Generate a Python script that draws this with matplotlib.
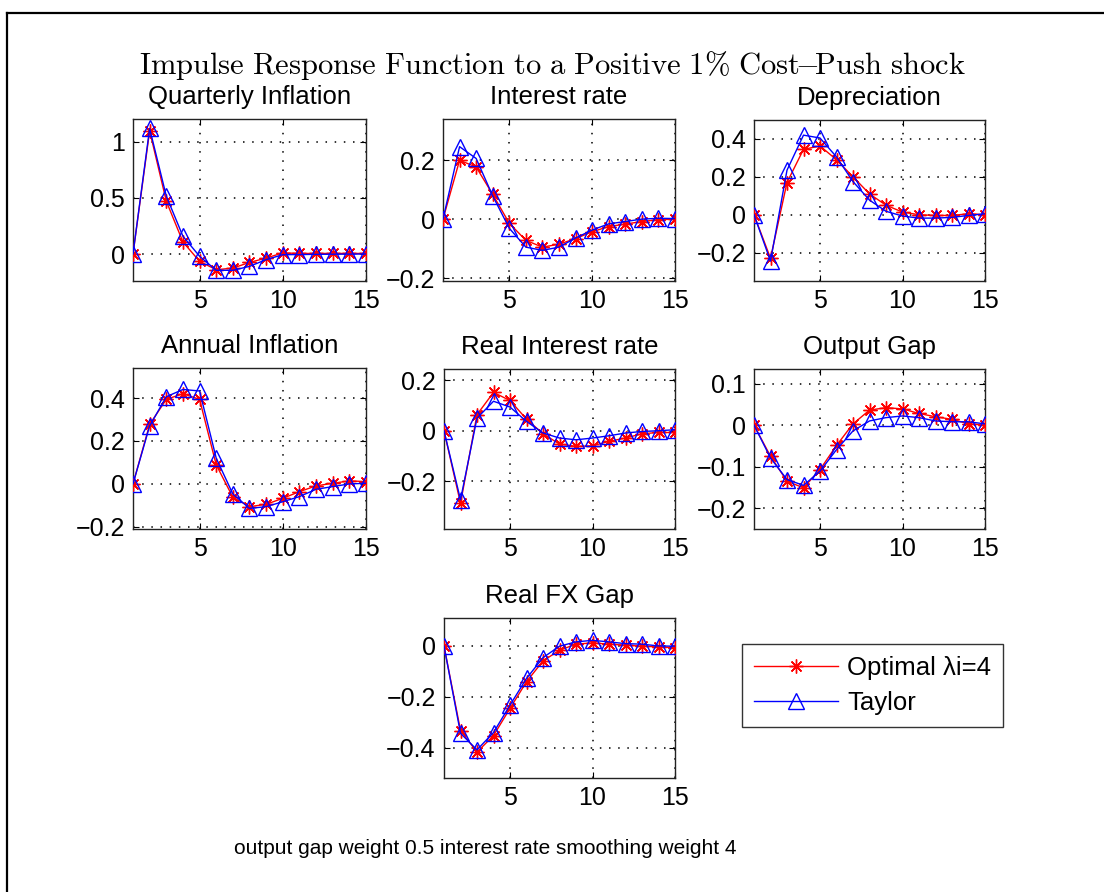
import matplotlib
matplotlib.use("Agg")
import matplotlib.pyplot as plt
from matplotlib.lines import Line2D
from matplotlib.ticker import FuncFormatter, FixedLocator

plt.rcParams['font.family'] = ['Liberation Sans', 'DejaVu Sans']
plt.rcParams['mathtext.fontset'] = 'cm'

periods = list(range(1, 16))

titles = ["Quarterly Inflation", "Interest rate", "Depreciation",
          "Annual Inflation", "Real Interest rate", "Output Gap", "Real FX Gap"]

qinf_opt = [0, 1.095, 0.47, 0.107, -0.065, -0.14, -0.125, -0.075, -0.036, 0.01, 0.005, 0.005, 0.005, 0.005, 0.005]
qinf_tay = [0, 1.116, 0.515, 0.158, -0.02, -0.145, -0.145, -0.11, -0.05, -0.006, -0.005, -0.003, -0.002, -0.001, 0.0]

ir_opt = [0, 0.2, 0.177, 0.084, -0.014, -0.072, -0.095, -0.085, -0.066, -0.043, -0.025, -0.017, -0.008, -0.002, 0.0]
ir_tay = [0, 0.246, 0.206, 0.079, -0.031, -0.095, -0.106, -0.095, -0.064, -0.037, -0.016, -0.008, 0.0, 0.003, 0.002]

dep_opt = [0, -0.23, 0.17, 0.345, 0.363, 0.29, 0.2, 0.11, 0.05, 0.014, 0.0, -0.004, -0.004, 0.005, 0.0]
dep_tay = [0, -0.245, 0.235, 0.42, 0.405, 0.305, 0.175, 0.077, 0.018, -0.007, -0.018, -0.018, -0.014, -0.004, 0.005]

ann_opt = [0, 0.277, 0.394, 0.42, 0.394, 0.089, -0.062, -0.106, -0.095, -0.067, -0.036, -0.009, 0.003, 0.014, 0.011]
ann_tay = [0, 0.27, 0.406, 0.44, 0.433, 0.12, -0.047, -0.114, -0.106, -0.083, -0.059, -0.025, -0.0125, 0.0, 0.003]

rir_opt = [0, -0.288, 0.064, 0.152, 0.12, 0.046, -0.012, -0.053, -0.062, -0.06, -0.042, -0.029, -0.012, -0.007, -0.007]
rir_tay = [0, -0.274, 0.05, 0.117, 0.094, 0.037, -0.009, -0.029, -0.036, -0.029, -0.02, -0.009, -0.003, 0.0, 0.004]

og_opt = [0, -0.075, -0.135, -0.151, -0.107, -0.049, 0.003, 0.036, 0.042, 0.039, 0.028, 0.02, 0.014, 0.003, 0.0]
og_tay = [0, -0.079, -0.131, -0.145, -0.111, -0.059, -0.014, 0.01, 0.018, 0.022, 0.018, 0.01, 0.008, 0.008, 0.003]

fx_opt = [0, -0.333, -0.418, -0.353, -0.246, -0.141, -0.059, -0.017, 0.007, 0.012, 0.007, 0.003, -0.001, -0.004, -0.007]
fx_tay = [0, -0.344, -0.409, -0.341, -0.233, -0.128, -0.046, -0.001, 0.016, 0.022, 0.016, 0.009, 0.007, 0.0, -0.001]

optimal_series = [qinf_opt, ir_opt, dep_opt, ann_opt, rir_opt, og_opt, fx_opt]
taylor_series = [qinf_tay, ir_tay, dep_tay, ann_tay, rir_tay, og_tay, fx_tay]

yticks = [[0, 0.5, 1], [-0.2, 0, 0.2], [-0.2, 0, 0.2, 0.4], [-0.2, 0, 0.2, 0.4],
          [-0.2, 0, 0.2], [-0.2, -0.1, 0, 0.1], [-0.4, -0.2, 0]]
ylims = [(-0.24, 1.2), (-0.21, 0.34), (-0.35, 0.5), (-0.21, 0.54),
         (-0.39, 0.245), (-0.25, 0.135), (-0.52, 0.11)]
xticks = [5, 10, 15]

legend_labels = ["Optimal λi=4", "Taylor"]
suptitle = r"$\mathrm{Impulse\ Response\ Function\ to\ a\ Positive\ 1\%\ Cost\!{-}\!Push\ shock}$"
caption = "output gap weight 0.5 interest rate smoothing weight 4"

W, H = 1104, 892
fig = plt.figure(figsize=(W / 100, H / 100), dpi=100)

# pixel boxes (left, top, right, bottom)
boxes = [(133, 119, 366, 281), (443, 119, 675, 281), (754, 120, 985, 281),
         (133, 368, 366, 529), (444, 369, 675, 529), (754, 369, 985, 529),
         (444, 618, 675, 778)]

def fmt(v, pos):
    s = "%g" % round(v, 6)
    return s.replace("-", "\u2212")

FS = 18
handles = None
for i, (l, t, r, b) in enumerate(boxes):
    ax = fig.add_axes([l / W, 1 - b / H, (r - l) / W, (b - t) / H])
    h1, = ax.plot(periods, optimal_series[i], color='#ff0000', lw=1.0,
                  marker=(8, 2, 0), ms=10, mew=1.0, zorder=3)
    h2, = ax.plot(periods, taylor_series[i], color='#0000ff', lw=1.0,
                  marker='^', ms=11.5, mfc='none', mec='#0000ff', mew=1.0, zorder=3)
    handles = [h1, h2]
    ax.set_xlim(1, 15)
    ax.set_ylim(*ylims[i])
    ax.xaxis.set_major_locator(FixedLocator(xticks))
    ax.yaxis.set_major_locator(FixedLocator(yticks[i]))
    ax.yaxis.set_major_formatter(FuncFormatter(fmt))
    ax.xaxis.set_major_formatter(FuncFormatter(fmt))
    ax.grid(True, color='black', linestyle=(0, (1, 5)), linewidth=1.1, zorder=1)
    ax.set_axisbelow(True)
    ax.tick_params(direction='in', top=True, right=True, length=4, width=0.8,
                   labelsize=FS, pad=6, colors='black')
    for sp in ax.spines.values():
        sp.set_linewidth(1.0)
        sp.set_color('#222222')
    ax.set_title(titles[i], fontsize=18.5, pad=11)

leg = fig.legend(handles, legend_labels, loc='upper left',
                 bbox_to_anchor=(742 / W, 1 - 644 / H), borderaxespad=0,
                 fontsize=18.5, frameon=True, fancybox=False, edgecolor='black',
                 handlelength=3.3, handletextpad=0.35, labelspacing=0.45,
                 borderpad=0.45)
leg.get_frame().set_linewidth(1.0)

fig.text(552 / W, 1 - 66 / H, suptitle, ha='center', va='center', fontsize=22)
fig.text(485 / W, 1 - 849 / H, caption, ha='center', va='center', fontsize=15)

# outer frame lines (left and top)
fig.add_artist(Line2D([6.5 / W, 6.5 / W], [0, 1 - 13 / H], color='black', lw=1.6,
                      transform=fig.transFigure))
fig.add_artist(Line2D([6.5 / W, 1], [1 - 13 / H, 1 - 13 / H], color='black', lw=1.6,
                      transform=fig.transFigure))

fig.savefig("out.png", dpi=100)
